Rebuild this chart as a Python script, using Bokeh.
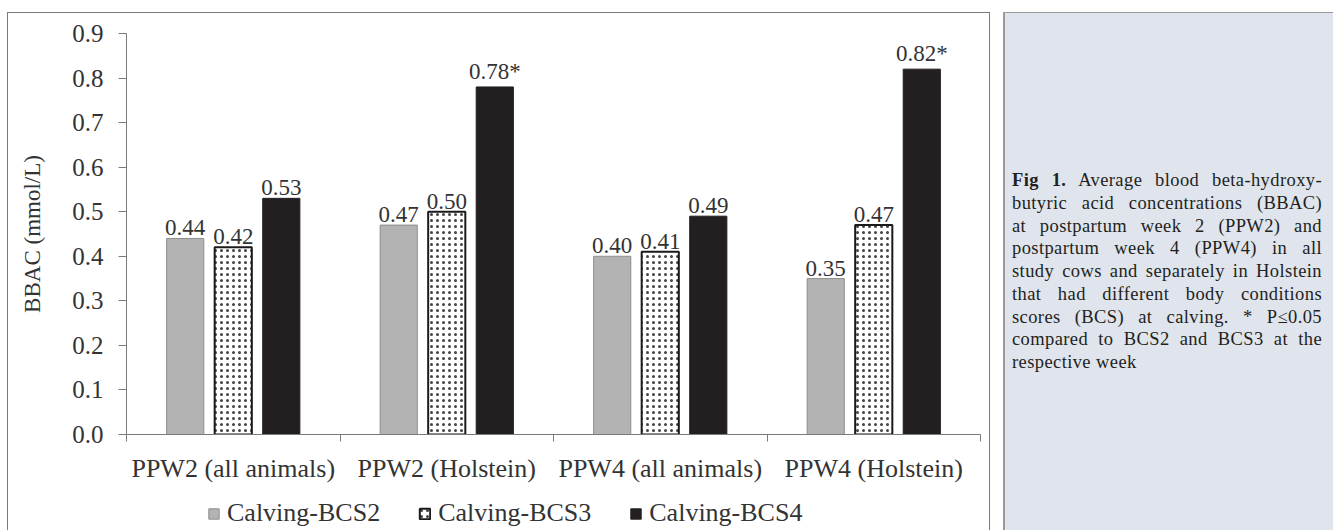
from bokeh.plotting import figure
from bokeh.models import (Range1d, FixedTicker, ColumnDataSource, Legend, LegendItem,
                          Div, NumeralTickFormatter, LinearAxis)
from bokeh.layouts import row, column
from bokeh.core.properties import value
from bokeh.embed import file_html
from bokeh.resources import INLINE

# ---- data ----
categories = ["PPW2 (all animals)", "PPW2 (Holstein)", "PPW4 (all animals)", "PPW4 (Holstein)"]
series_names = ["Calving-BCS2", "Calving-BCS3", "Calving-BCS4"]
bcs2 = [0.44, 0.47, 0.40, 0.35]
bcs3 = [0.42, 0.50, 0.41, 0.47]
bcs4 = [0.53, 0.78, 0.49, 0.82]
significant4 = [False, True, False, True]
y_ticks = [0.0, 0.1, 0.2, 0.3, 0.4, 0.5, 0.6, 0.7, 0.8, 0.9]

FONT = "Liberation Serif"
TXT = "#333333"
AX = "#7a7a7a"
BORDER = "1px solid #7a7a7a"

STYLE2 = dict(fill_color="#b3b3b3", line_color="#8e8e8e", line_width=1)
STYLE3 = dict(fill_color="white", line_color="#1a1a1a", line_width=2, hatch_pattern="dot",
              hatch_color="#444444", hatch_scale=6, hatch_weight=1.4)
STYLE4 = dict(fill_color="#231f20", line_color="#231f20", line_width=1)

xr = Range1d(0, len(categories))

p = figure(frame_width=852, frame_height=400, min_border_left=118, min_border_right=11,
           min_border_top=20, min_border_bottom=60,
           x_range=xr, y_range=Range1d(0, 0.9),
           output_backend="svg", toolbar_location=None, tools="",
           x_axis_location=None, y_axis_location=None)
p.xgrid.visible = False
p.ygrid.visible = False
p.outline_line_color = None
p.background_fill_color = "white"
p.border_fill_color = "white"
p.margin = (12, 0, 0, 7)
p.styles = {"border-left": BORDER, "border-top": BORDER, "border-right": BORDER}

# x axis: labels at category centres, ticks at category boundaries
centres = [i + 0.5 for i in range(len(categories))]
bounds = list(range(len(categories) + 1))
xax = LinearAxis(ticker=FixedTicker(ticks=centres, minor_ticks=bounds),
                 major_label_overrides={c: lab for c, lab in zip(centres, categories)})
xax.major_tick_out = 0
xax.major_tick_in = 0
xax.minor_tick_out = 7
xax.minor_tick_in = 0
xax.minor_tick_line_color = AX
xax.axis_line_color = AX
xax.major_label_text_font = FONT
xax.major_label_text_font_size = "26px"
xax.major_label_text_color = TXT
xax.major_label_standoff = 12
p.add_layout(xax, "below")

yax = LinearAxis(ticker=FixedTicker(ticks=y_ticks, minor_ticks=[]),
                 formatter=NumeralTickFormatter(format="0.0"),
                 axis_label="BBAC (mmol/L)")
yax.major_tick_out = 8
yax.major_tick_in = 0
yax.major_tick_line_color = AX
yax.axis_line_color = AX
yax.major_label_text_font = FONT
yax.major_label_text_font_size = "25px"
yax.major_label_text_color = TXT
yax.major_label_standoff = 15
yax.axis_label_text_font = FONT
yax.axis_label_text_font_size = "23px"
yax.axis_label_text_font_style = "normal"
yax.axis_label_text_color = TXT
yax.axis_label_standoff = 24
p.add_layout(yax, "left")

step = 0.225
bw = 0.174
src = ColumnDataSource(dict(
    x2=[c - step for c in centres], x3=centres, x4=[c + step for c in centres],
    b2=bcs2, b3=bcs3, b4=bcs4,
    l2=["%.2f" % v for v in bcs2], l3=["%.2f" % v for v in bcs3],
    l4=["%.2f" % v + ("*" if s else "") for v, s in zip(bcs4, significant4)],
))

p.vbar(x="x2", top="b2", width=bw, source=src, **STYLE2)
p.vbar(x="x3", top="b3", width=bw, source=src, **STYLE3)
p.vbar(x="x4", top="b4", width=bw, source=src, **STYLE4)

for xcol, ycol, lcol in [("x2", "b2", "l2"), ("x3", "b3", "l3"), ("x4", "b4", "l4")]:
    p.text(x=xcol, y=ycol, text=lcol, source=src, text_align="center",
           text_baseline="bottom", y_offset=-3, text_font=value(FONT),
           text_font_size="23px", text_color=TXT)

# legend strip below the chart (series renderers hidden, only the legend shows)
lf = figure(frame_width=852, frame_height=37, min_border_left=118, min_border_right=11,
            min_border_top=0, min_border_bottom=0, output_backend="svg",
            toolbar_location=None, tools="", x_axis_location=None, y_axis_location=None,
            x_range=xr, y_range=Range1d(0, 0.9))
lf.xgrid.visible = False
lf.ygrid.visible = False
lf.outline_line_color = None
lf.background_fill_color = "white"
lf.border_fill_color = "white"
lf.margin = (0, 0, 0, 7)
lf.styles = {"border-left": BORDER, "border-right": BORDER}
g2 = lf.vbar(x="x2", top="b2", width=bw, source=src, visible=False, **STYLE2)
g3 = lf.vbar(x="x3", top="b3", width=bw, source=src, visible=False, **STYLE3)
g4 = lf.vbar(x="x4", top="b4", width=bw, source=src, visible=False, **STYLE4)

legend = Legend(items=[LegendItem(label=series_names[0], renderers=[g2], index=0),
                       LegendItem(label=series_names[1], renderers=[g3], index=0),
                       LegendItem(label=series_names[2], renderers=[g4], index=0)],
                orientation="horizontal", location=(81, 2))
legend.glyph_width = 13
legend.glyph_height = 13
legend.label_standoff = 7
legend.spacing = 38
legend.padding = 0
legend.margin = 0
legend.border_line_color = None
legend.background_fill_alpha = 0
legend.inactive_fill_alpha = 0
legend.label_text_font = FONT
legend.label_text_font_size = "26px"
legend.label_text_color = TXT
lf.add_layout(legend, "center")

chart = column(p, lf, spacing=0)

caption_lines = [
    "<b>Fig 1.</b> Average blood beta-hydroxy-",
    "butyric acid concentrations (BBAC)",
    "at postpartum week 2 (PPW2) and",
    "postpartum week 4 (PPW4) in all",
    "study cows and separately in Holstein",
    "that had different body conditions",
    "scores (BCS) at calving. * P\u22640.05",
    "compared to BCS2 and BCS3 at the",
]
last_line = "respective week"

lines_html = "".join(
    '<div style="text-align:justify;text-align-last:justify;white-space:nowrap;">%s</div>' % t
    for t in caption_lines
) + '<div style="text-align:left;white-space:nowrap;">%s</div>' % last_line

html = (
    '<div style="position:absolute;left:13px;top:12px;width:330px;height:518px;'
    'box-sizing:border-box;background:#dfe4ed;border-left:2px solid #9a9a9a;'
    'border-top:1px solid #9a9a9a;display:flex;align-items:center;padding:0 11px 0 7px;">'
    '<div style="width:100%%;font-family:\'Liberation Serif\';font-size:18.5px;'
    'letter-spacing:0.4px;line-height:22.8px;color:#231f20;">%s</div></div>' % lines_html
)
cap = Div(text=html, width=343, height=530, margin=0, styles={"position": "relative"})

layout = row(chart, cap, spacing=0)
open("out.html", "w").write(file_html(layout, INLINE))
